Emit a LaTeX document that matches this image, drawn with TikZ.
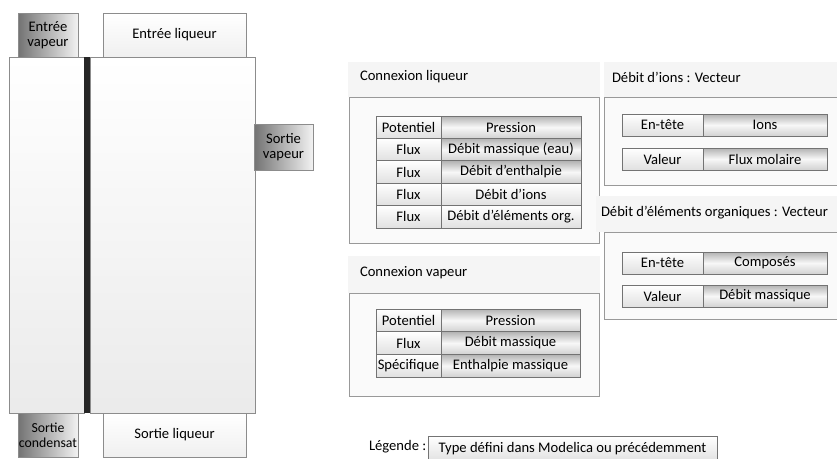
\documentclass[tikz,border=0pt]{standalone}
\usepackage{fontspec}
\setmainfont{Carlito}
\begin{document}
\begin{tikzpicture}[x=1pt,y=-1pt,
  every node/.style={font=\fontsize{14.6}{16}\selectfont, inner sep=0pt, outer sep=0pt},
  port/.style={draw=black!45, line width=0.8pt, left color=black!55, right color=white!95!black, align=center},
  lport/.style={draw=black!45, line width=0.8pt, top color=white, bottom color=black!6},
  vessel/.style={draw=black!45, line width=0.8pt, top color=white, bottom color=black!8},
  band/.style={fill=black!4, draw=none},
  panel/.style={draw=black!40, line width=0.8pt, fill=black!2},
  cellA/.style={draw=black!55, line width=0.7pt, top color=white, bottom color=black!12, anchor=north west},
  cellB/.style={draw=black!55, line width=0.7pt, top color=black!30, bottom color=black!18, middle color=black!3, anchor=north west},
  ttl/.style={anchor=west}
]
\useasboundingbox (0,0) rectangle (837,458);
\fill[white] (0,0) rectangle (837,458);
\clip (0,0) rectangle (837,458);

% ---- evaporator ----
\path[vessel] (9,57) rectangle (84,413);
\path[vessel] (90,57) rectangle (255,413);
\fill[black!85] (84,57) rectangle (90,413);
\node[port, minimum width=60pt, minimum height=44pt, anchor=north west] (ev) at (18,13) {Entrée\\[-1pt]vapeur};
\node[lport, minimum width=143pt, minimum height=44pt, anchor=north west] (el) at (103,13) {Entrée liqueur};
\node[port, minimum width=59pt, minimum height=46pt, anchor=north west] (sv) at (254,124) {Sortie\\[-1pt]vapeur};
\node[port, minimum width=60pt, minimum height=44pt, anchor=north west, font=\fontsize{13.8}{16}\selectfont] (sc) at (18,413) {Sortie\\[-1pt]condensat};
\node[lport, minimum width=143pt, minimum height=44pt, anchor=north west] (sl) at (103,413) {Sortie liqueur};

% ---- Connexion liqueur ----
\path[band] (348,62) rectangle (600,97);
\path[panel] (349,97) rectangle (599,243);
\node[ttl] (tcl) at (360,77) {Connexion liqueur};
\foreach \i/\a/\b/\s in {0/Potentiel/Pression/cellB, 1/Flux/Débit massique (eau)/cellB, 2/Flux/Débit d’enthalpie/cellB, 3/Flux/Débit d’ions/cellA, 4/Flux/Débit d’éléments org./cellA}{
  \node[cellA, minimum width=65pt, minimum height=22.4pt] (cl\i a) at (376,116+22.4*\i) {\a};
  \node[\s, minimum width=140pt, minimum height=22.4pt] (cl\i b) at (441,116+22.4*\i) {\b};
}

% ---- Connexion vapeur ----
\path[band] (348,256) rectangle (600,293);
\path[panel] (349,293) rectangle (599,396);
\node[ttl] (tcv) at (360,273) {Connexion vapeur};
\foreach \i/\a/\b in {0/Potentiel/Pression, 1/Flux/Débit massique, 2/Spécifique/Enthalpie massique}{
  \node[cellA, minimum width=65pt, minimum height=22.67pt] (cv\i a) at (376,309+22.67*\i) {\a};
  \node[cellB, minimum width=139pt, minimum height=22.67pt] (cv\i b) at (441,309+22.67*\i) {\b};
}

% ---- Débit d'ions ----
\path[band] (604,62) rectangle (840,97);
\path[panel] (604,97) rectangle (850,185);
\node[ttl] (tdi) at (612,77) {Débit d’ions : Vecteur};
\node[cellA, minimum width=81pt, minimum height=22pt] (di0a) at (622,114) {En-tête};
\node[cellB, minimum width=124pt, minimum height=22pt] (di0b) at (703,114) {Ions};
\node[cellA, minimum width=81pt, minimum height=22pt] (di1a) at (622,148) {Valeur};
\node[cellB, minimum width=124pt, minimum height=22pt] (di1b) at (703,148) {Flux molaire};

% ---- Débit d'éléments organiques ----
\path[band] (596,196) rectangle (840,232);
\path[panel] (604,232) rectangle (850,319);
\node[ttl] (tdo) at (601,213) {Débit d’éléments organiques : Vecteur};
\node[cellA, minimum width=81pt, minimum height=22pt] (do0a) at (622,252) {En-tête};
\node[cellB, minimum width=124pt, minimum height=22pt] (do0b) at (703,252) {Composés};
\node[cellA, minimum width=81pt, minimum height=22pt] (do1a) at (622,285) {Valeur};
\node[cellB, minimum width=124pt, minimum height=22pt] (do1b) at (703,285) {Débit massique};

% ---- Légende ----
\node[anchor=west] (leg) at (369,447) {Légende :};
\node[cellA, minimum width=289pt, minimum height=26pt] (legbox) at (428,436) {Type défini dans Modelica ou précédemment};
\end{tikzpicture}
\end{document}
